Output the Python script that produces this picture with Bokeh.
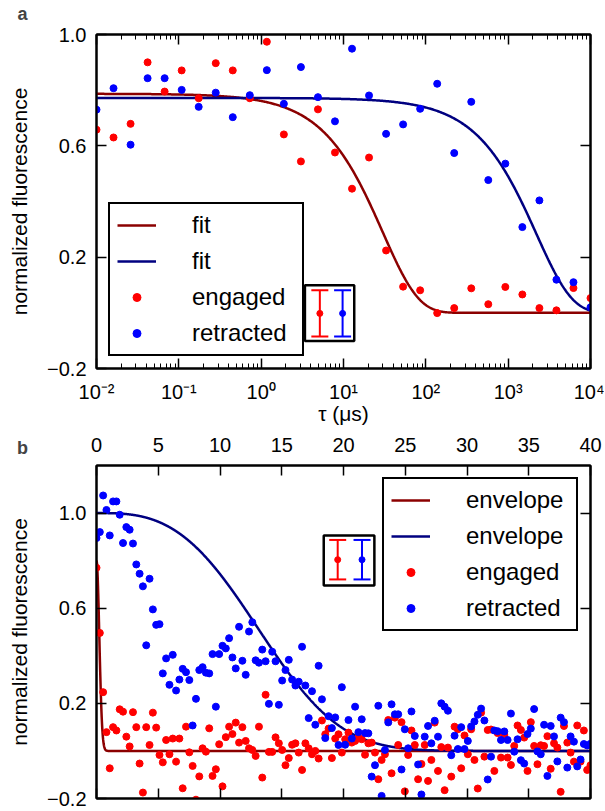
import numpy as np
from bokeh.plotting import figure
from bokeh.models import (LinearAxis, LogAxis, FixedTicker, LogTicker, SingleIntervalTicker,
                          CustomJSTickFormatter, Legend, LegendItem, Range1d, Label)
from bokeh.layouts import column
from bokeh.embed import file_html
from bokeh.resources import INLINE

# ---------------- data: panel a ----------------
tau_a = [0.01, 0.01610, 0.02593, 0.04175, 0.06723, 0.1083, 0.1743, 0.2807, 0.4520, 0.7279,
         1.172, 1.887, 3.039, 4.894, 7.880, 12.69, 20.43, 32.90, 52.98, 85.31,
         137.4, 221.2, 356.2, 573.6, 923.7, 1487, 2395, 3857, 6210, 10000]
engaged_a = [0.658, 0.630, 0.679, 0.900, 0.795, 0.871, 0.771, 0.897, 0.871, 0.771,
             0.974, 0.641, 0.544, 0.731, 0.576, 0.446, 0.558, 0.224, 0.094, 0.081,
             -0.001, 0.017, 0.088, 0.031, 0.093, 0.066, 0.017, 0.009, 0.089, 0.053]
retracted_a = [0.730, 0.807, 0.604, 0.843, 0.843, 0.801, 0.740, 0.791, 0.703, 0.782,
               0.872, 0.751, 0.883, 0.775, 0.688, 0.949, 0.781, 0.643, 0.677, 0.733,
               0.823, 0.574, 0.758, 0.477, 0.536, 0.308, 0.404, 0.119, 0.110, 0.020]
# exponential fits: amplitude, decay time (us)
fit_engaged_a = (0.787, 30.0)
fit_retracted_a = (0.772, 2200.0)

# ---------------- data: panel b ----------------
tau_b = np.linspace(0, 40, 150)
engaged_b = [0.77, 0.496, 0.247, 0.079, -0.073, 0.100, 0.086, 0.175, 0.165, 0.060,
             0.019, 0.163, 0.100, -0.053, -0.175, 0.100, 0.025, 0.161, 0.098, -0.017,
             -0.048, 0.046, -0.014, 0.052, -0.045, 0.052, -0.157, 0.102, -0.006, -0.063,
             -0.205, -0.107, 0.011, -0.003, 0.095, -0.105, -0.077, 0.028, -0.149, 0.058,
             0.102, 0.071, 0.119, 0.035, 0.100, 0.042, 0.011, 0.004, -0.021, 0.102,
             -0.112, 0.236, -0.004, -0.004, 0.057, 0.032, 0.004, -0.060, -0.030, 0.026,
             0.032, -0.007, -0.080, 0.032, 0.011, -0.014, 0.000, -0.032, 0.128, 0.070,
             0.094, -0.030, 0.052, 0.070, -0.007, 0.049, 0.077, 0.035, 0.042, 0.056,
             0.049, -0.016, 0.032, 0.035, -0.007, -0.119, -0.038, -0.014, 0.130, -0.094,
             0.140, 0.025, 0.121, -0.170, -0.017, 0.086, 0.025, -0.119, -0.055, 0.025,
             -0.126, -0.038, 0.119, -0.084, 0.016, -0.165, 0.014, -0.108, 0.102, 0.091,
             -0.073, 0.065, -0.014, 0.091, -0.038, -0.158, 0.161, -0.024, 0.088, 0.090,
             -0.084, 0.075, -0.028, 0.067, -0.028, -0.059, 0.021, 0.107, 0.088, 0.056,
             -0.084, 0.121, 0.021, -0.056, 0.024, 0.021, 0.062, -0.075, 0.032, 0.014,
             -0.172, 0.105, 0.035, -0.007, -0.045, 0.107, -0.045, 0.086, -0.080, -0.060]
retracted_b = [0.895, 0.920, 1.074, 1.013, 0.906, 1.049, 1.049, 0.993, 0.874, 0.941,
               0.930, 0.872, 0.784, 0.745, 0.692, 0.444, 0.724, 0.595, 0.530, 0.533,
               0.326, 0.389, 0.278, 0.404, 0.254, 0.300, 0.345, 0.331, 0.298, 0.107,
               0.219, 0.340, 0.352, 0.329, 0.326, 0.407, 0.186, 0.407, 0.442, 0.431,
               0.474, 0.393, 0.347, 0.522, 0.379, 0.320, 0.502, 0.541, 0.381, 0.371,
               0.426, 0.377, 0.198, 0.417, 0.377, 0.194, 0.296, 0.340, 0.383, 0.300,
               0.275, 0.291, 0.438, 0.275, 0.138, 0.251, 0.110, 0.358, 0.217, 0.054,
               0.146, 0.096, 0.141, 0.025, 0.268, 0.026, 0.130, 0.052, 0.186, 0.079,
               0.133, 0.075, 0.074, -0.108, -0.060, 0.190, -0.189, 0.004, 0.120, 0.196,
               0.154, 0.154, -0.078, 0.091, 0.011, 0.166, 0.063, -0.057, -0.183, 0.060,
               0.105, 0.032, 0.127, 0.060, 0.200, 0.186, 0.169, -0.018, 0.064, 0.008,
               0.100, 0.008, 0.042, 0.103, 0.124, 0.152, 0.178, 0.128, -0.120, -0.024,
               0.086, 0.083, 0.046, 0.082, 0.046, 0.157, -0.003, 0.049, -0.039, -0.053,
               0.071, 0.094, 0.176, -0.002, -0.014, 0.110, -0.105, 0.105, 0.061, -0.044,
               0.140, 0.121, -0.070, 0.061, 0.039, -0.065, -0.036, 0.029, 0.023, 0.030]
# envelopes: amplitude, time constant (us), exponent
env_engaged_b = (0.80, 0.32, 2.0)
env_retracted_b = (1.00, 15.0, 3.0)

y_ticks = [-0.2, 0.2, 0.6, 1.0]
typical_error = 0.083

FONT = "Liberation Sans"
RED, BLUE = "#ff0000", "#0000ff"
DRED, DBLUE = "#8b0000", "#000080"

minus_fmt = CustomJSTickFormatter(code="""
    return (tick < 0 ? "\\u2212" : "") + Math.abs(tick).toFixed(1);
""")
log_fmt = CustomJSTickFormatter(code="""
    const e = Math.round(Math.log10(tick));
    const sup = {"-": "\\u207b", "0": "\\u2070", "1": "\\u00b9", "2": "\\u00b2", "3": "\\u00b3",
                 "4": "\\u2074", "5": "\\u2075", "6": "\\u2076", "7": "\\u2077", "8": "\\u2078", "9": "\\u2079"};
    return "10" + String(e).split("").map(c => sup[c]).join("");
""")
empty_fmt = CustomJSTickFormatter(code="return '';")


def style_axis(ax, minor=False):
    ax.axis_line_color = "black"
    ax.axis_line_width = 2
    ax.major_tick_in = 10
    ax.major_tick_out = 0
    ax.major_tick_line_color = "black"
    ax.major_tick_line_width = 1.5
    if minor:
        ax.minor_tick_in = 5
        ax.minor_tick_out = 0
        ax.minor_tick_line_color = "black"
        ax.minor_tick_line_width = 1
    else:
        ax.minor_tick_line_color = None
    ax.major_label_text_font = FONT
    ax.major_label_text_font_size = "20px"
    ax.major_label_text_color = "black"
    ax.major_label_standoff = 10
    ax.axis_label_text_font = FONT
    ax.axis_label_text_font_size = "21px"
    ax.axis_label_text_font_style = "normal"
    ax.axis_label_text_color = "black"
    ax.axis_label_standoff = 13


def style_legend(lg, label_width):
    lg.label_text_font = FONT
    lg.label_text_font_size = "24px"
    lg.label_text_color = "black"
    lg.glyph_width = 39
    lg.glyph_height = 20
    lg.label_standoff = 36
    lg.label_width = label_width
    lg.spacing = 8
    lg.padding = 7
    lg.margin = 12
    lg.border_line_color = "black"
    lg.border_line_alpha = 1.0
    lg.border_line_width = 2
    lg.background_fill_color = "white"
    lg.background_fill_alpha = 1


def error_inset(p, xs, center, box):
    left, right, bottom, top = box
    p.quad(left=[left], right=[right], bottom=[bottom], top=[top],
           fill_color="white", line_color="black", line_width=2.5)
    cols = [RED, BLUE]
    p.segment(x0=xs, y0=[center - typical_error] * 2, x1=xs, y1=[center + typical_error] * 2,
              line_color=cols, line_width=2)
    for yy in (center - typical_error, center + typical_error):
        p.scatter(xs, [yy] * 2, marker="dash", size=17, line_color=cols, line_width=2)
    p.scatter(xs, [center] * 2, size=6, fill_color=cols, line_color=cols)


def panel_letter(p, text, dx, dy):
    # placed in the (narrow) right side panel so that it is not clipped by the frame;
    # dx is measured from that panel's left edge, dy from the frame bottom
    p.add_layout(Label(x=dx, y=dy, x_units="screen", y_units="screen", text=text,
                       text_font=FONT, text_font_size="18px", text_font_style="bold",
                       text_align="center", text_baseline="middle"), "right")


# ---------------- panel a ----------------
p1 = figure(frame_width=494, frame_height=334, x_axis_type="log",
            x_range=Range1d(1e-2, 1e4), y_range=Range1d(-0.2, 1.0),
            output_backend="svg", toolbar_location=None,
            min_border_left=96, min_border_right=14, min_border_top=34, min_border_bottom=56)
p1.grid.visible = False
p1.outline_line_color = "black"
p1.outline_line_width = 2
p1.background_fill_color = "white"

xa = p1.xaxis[0]
xa.ticker = LogTicker(num_minor_ticks=10)
xa.formatter = log_fmt
xa.axis_label = "τ (μs)"
style_axis(xa, minor=True)
xa.major_label_standoff = 12
xa.axis_label_standoff = -4
ya = p1.yaxis[0]
ya.ticker = FixedTicker(ticks=y_ticks)
ya.formatter = minus_fmt
ya.axis_label = "normalized fluorescence"
style_axis(ya)
top_ax = LogAxis(ticker=LogTicker(num_minor_ticks=10), formatter=empty_fmt)
style_axis(top_ax, minor=True)
top_ax.major_label_standoff = 0
p1.add_layout(top_ax, "above")
right_ax = LinearAxis(ticker=FixedTicker(ticks=y_ticks), formatter=empty_fmt)
style_axis(right_ax)
right_ax.major_label_standoff = 0
p1.add_layout(right_ax, "right")

t_fine = np.logspace(-2, 4, 600)
r1 = p1.line(t_fine, fit_engaged_a[0] * np.exp(-t_fine / fit_engaged_a[1]), line_color=DRED, line_width=2.5)
r2 = p1.line(t_fine, fit_retracted_a[0] * np.exp(-t_fine / fit_retracted_a[1]), line_color=DBLUE, line_width=2.5)
r3 = p1.scatter(tau_a, engaged_a, size=7, fill_color=RED, line_color=RED)
r4 = p1.scatter(tau_a, retracted_a, size=7, fill_color=BLUE, line_color=BLUE)
error_inset(p1, [5.16, 9.75], -0.002, (3.40, 13.5, -0.101, 0.099))

lg1 = Legend(items=[LegendItem(label="fit", renderers=[r1]), LegendItem(label="fit", renderers=[r2]),
                    LegendItem(label="engaged", renderers=[r3]), LegendItem(label="retracted", renderers=[r4])],
             location="bottom_left")
style_legend(lg1, 103)
p1.add_layout(lg1, "center")
panel_letter(p1, "a", 22 - 590, 334 + 21)

# ---------------- panel b ----------------
p2 = figure(frame_width=494, frame_height=333, x_axis_location="above",
            x_range=Range1d(0, 40), y_range=Range1d(-0.2, 1.2),
            output_backend="svg", toolbar_location=None,
            min_border_left=96, min_border_right=14, min_border_top=38, min_border_bottom=12)
p2.grid.visible = False
p2.outline_line_color = "black"
p2.outline_line_width = 2
p2.background_fill_color = "white"

xb = p2.xaxis[0]
xb.ticker = SingleIntervalTicker(interval=5, num_minor_ticks=0)
style_axis(xb)
xb.major_label_standoff = 14
yb = p2.yaxis[0]
yb.ticker = FixedTicker(ticks=y_ticks)
yb.formatter = minus_fmt
yb.axis_label = "normalized fluorescence"
style_axis(yb)
bot_ax = LinearAxis(ticker=SingleIntervalTicker(interval=5, num_minor_ticks=0), formatter=empty_fmt)
style_axis(bot_ax)
bot_ax.major_label_standoff = 0
p2.add_layout(bot_ax, "below")
right_b = LinearAxis(ticker=FixedTicker(ticks=y_ticks), formatter=empty_fmt)
style_axis(right_b)
right_b.major_label_standoff = 0
p2.add_layout(right_b, "right")

tb_fine = np.linspace(0, 40, 2000)
q1 = p2.line(tb_fine, env_engaged_b[0] * np.exp(-(tb_fine / env_engaged_b[1]) ** env_engaged_b[2]),
             line_color=DRED, line_width=2.5)
q2 = p2.line(tb_fine, env_retracted_b[0] * np.exp(-(tb_fine / env_retracted_b[1]) ** env_retracted_b[2]),
             line_color=DBLUE, line_width=2.5)
q3 = p2.scatter(tau_b, engaged_b, size=7, fill_color=RED, line_color=RED)
q4 = p2.scatter(tau_b, retracted_b, size=7, fill_color=BLUE, line_color=BLUE)
error_inset(p2, [19.53, 21.5], 0.804, (18.4, 22.5, 0.695, 0.906))

lg2 = Legend(items=[LegendItem(label="envelope", renderers=[q1]), LegendItem(label="envelope", renderers=[q2]),
                    LegendItem(label="engaged", renderers=[q3]), LegendItem(label="retracted", renderers=[q4])],
             location="top_right")
style_legend(lg2, 103)
p2.add_layout(lg2, "center")
panel_letter(p2, "b", 22 - 590, 333 + 18)

layout = column(p1, p2, spacing=0)
open("out.html", "w").write(file_html(layout, INLINE))
